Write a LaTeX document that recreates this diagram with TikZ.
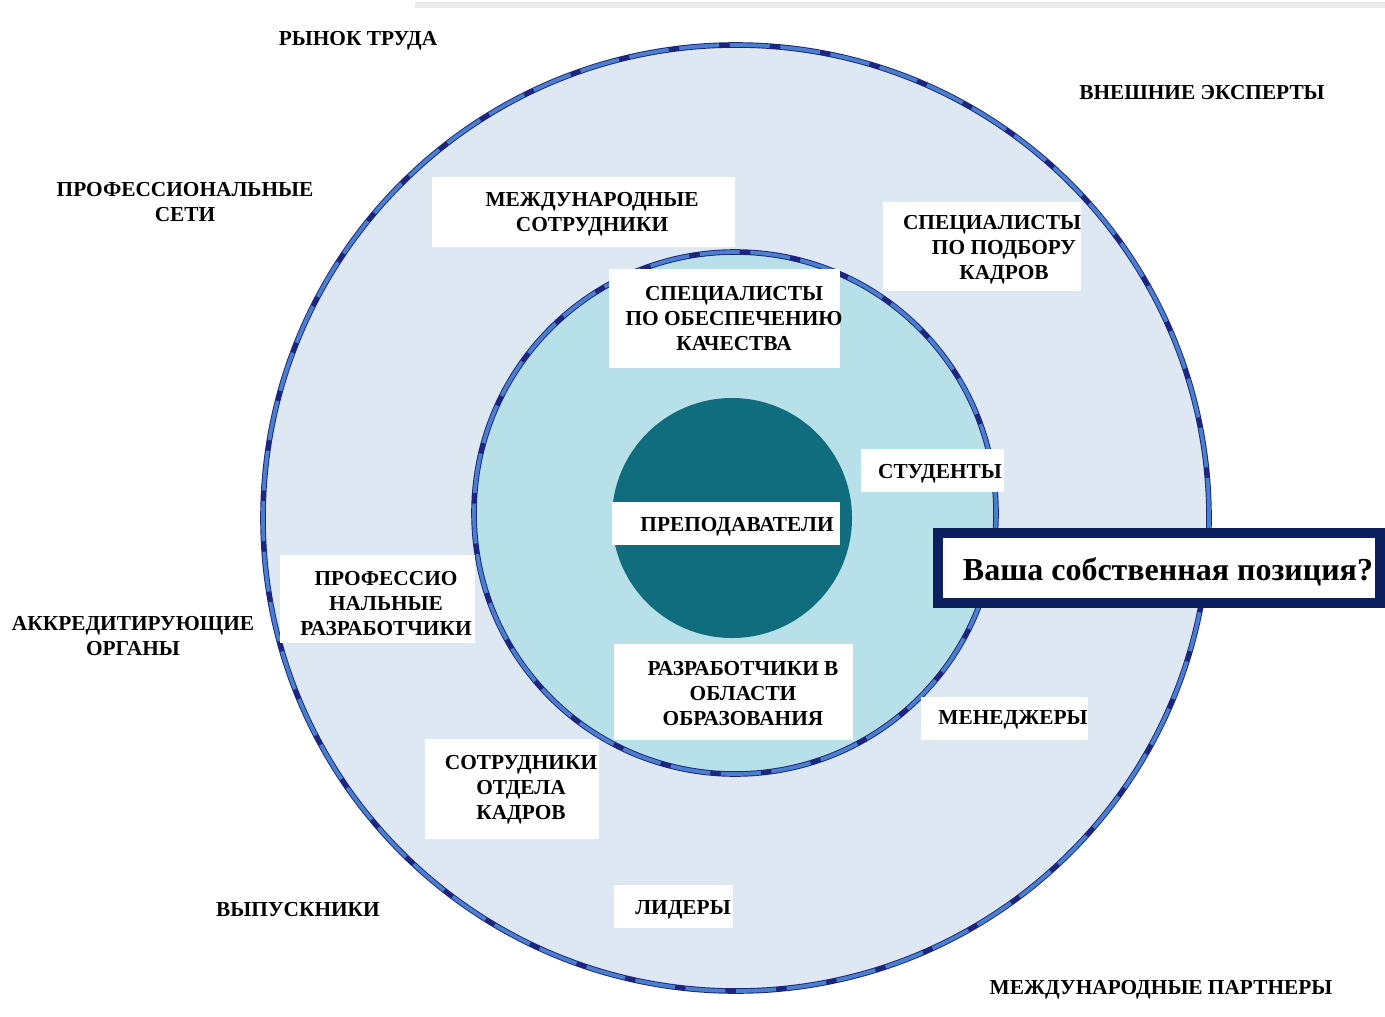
\documentclass[tikz,border=0pt]{standalone}
\usepackage{fontspec}
\setmainfont{Liberation Serif}
\definecolor{outerfill}{HTML}{DDE8F3}
\definecolor{innerfill}{HTML}{B8E0E8}
\definecolor{corefill}{HTML}{106D7D}
\definecolor{navyline}{HTML}{1C2580}
\definecolor{dashblue}{HTML}{4A7FCB}
\definecolor{framenavy}{HTML}{0D1F5C}
\begin{document}
\begin{tikzpicture}[x=0.75pt,y=-0.75pt,
  ring/.style={circle, inner sep=0pt, draw=navyline, line width=4.2pt,
     postaction={draw=dashblue, line width=2.8pt, dash pattern=on 30pt off 8pt}},
  wbox/.style 2 args={fill=white, draw=none, inner sep=0pt,
     minimum width=#1*0.75pt, minimum height=#2*0.75pt},
  lbl/.style={font=\bfseries\fontsize{16}{18.75}\selectfont, align=center, inner sep=0pt, yshift=-2.2pt}]
\useasboundingbox (0,0) rectangle (1385,1017);
\fill[white] (0,0) rectangle (1385,1017);
\fill[black!8] (415,2) rectangle (1385,8);

% circles
\node[ring, fill=outerfill, minimum size=946*0.75pt] (outer) at (736,518) {};
\node[ring, fill=innerfill, minimum size=522*0.75pt] (inner) at (735,513) {};
\node[circle, fill=corefill, inner sep=0pt, minimum size=240*0.75pt] (core) at (732,518) {};

% white boxes
\node[wbox={303}{70}] (b1) at (583,212) {};
\node[wbox={198}{89}] (b2) at (982,246) {};
\node[wbox={231}{99}] (b3) at (724,318) {};
\node[wbox={143}{43}] (b4) at (932,470) {};
\node[wbox={228}{43}] (b5) at (726,523) {};
\node[wbox={195}{88}] (b6) at (377,599) {};
\node[wbox={239}{96}] (b7) at (733,692) {};
\node[wbox={167}{43}] (b8) at (1004,718) {};
\node[wbox={174}{100}] (b9) at (512,789) {};
\node[wbox={119}{43}] (b10) at (673,906) {};

% labels
\node[lbl] (t1) at (358,38) {РЫНОК ТРУДА};
\node[lbl] (t2) at (1202,90) {ВНЕШНИЕ ЭКСПЕРТЫ};
\node[lbl] (t3) at (185,199) {ПРОФЕССИОНАЛЬНЫЕ\\СЕТИ};
\node[lbl] (t4) at (592,211) {МЕЖДУНАРОДНЫЕ\\СОТРУДНИКИ};
\node[lbl] (t5) at (992,247) {СПЕЦИАЛИСТЫ\\\hspace*{18pt}ПО ПОДБОРУ\\\hspace*{18pt}КАДРОВ};
\node[lbl] (t6) at (734,316) {СПЕЦИАЛИСТЫ\\ПО ОБЕСПЕЧЕНИЮ\\КАЧЕСТВА};
\node[lbl] (t7) at (940,471) {СТУДЕНТЫ};
\node[lbl] (t8) at (737,524) {ПРЕПОДАВАТЕЛИ};
\node[lbl] (t9) at (386,601) {ПРОФЕССИО\\НАЛЬНЫЕ\\РАЗРАБОТЧИКИ};
\node[lbl] (t10) at (133,633) {АККРЕДИТИРУЮЩИЕ\\ОРГАНЫ};
\node[lbl] (t11) at (743,691) {РАЗРАБОТЧИКИ В\\ОБЛАСТИ\\ОБРАЗОВАНИЯ};
\node[lbl] (t12) at (1013,717) {МЕНЕДЖЕРЫ};
\node[lbl] (t13) at (521,787) {СОТРУДНИКИ\\ОТДЕЛА\\КАДРОВ};
\node[lbl] (t14) at (298,907) {ВЫПУСКНИКИ};
\node[lbl] (t15) at (683,907) {ЛИДЕРЫ};
\node[lbl] (t16) at (1161,987) {МЕЖДУНАРОДНЫЕ ПАРТНЕРЫ};

% own position box
\node[fill=white, draw=framenavy, line width=7.5pt, inner sep=0pt,
      minimum width=442*0.75pt, minimum height=70*0.75pt] (own) at (1159,568) {};
\node[lbl, font=\bfseries\fontsize{24}{28}\selectfont] (owntxt) at (1168,569) {Ваша собственная позиция?};
\end{tikzpicture}
\end{document}
